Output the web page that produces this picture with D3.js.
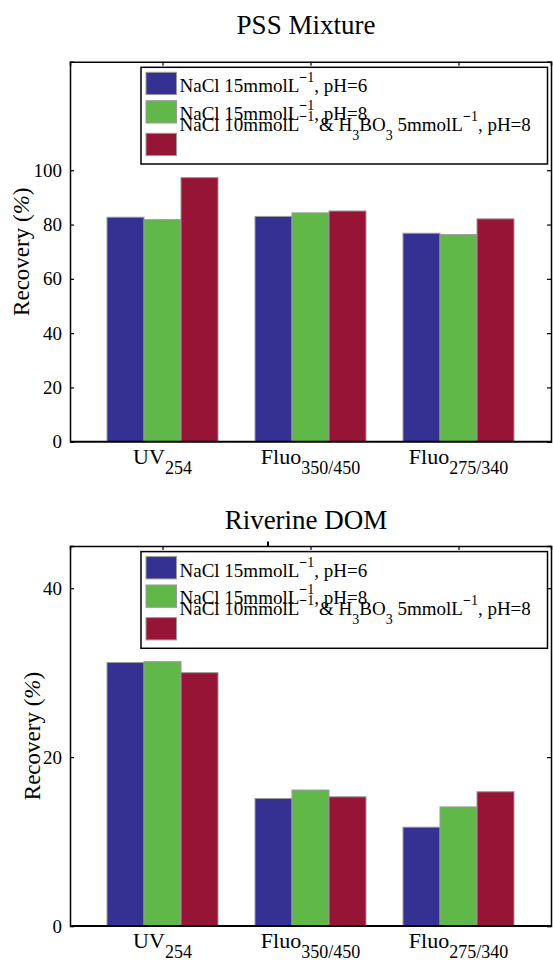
<!DOCTYPE html>
<html>
<head>
<meta charset="utf-8">
<script src="https://cdn.jsdelivr.net/npm/d3@7"></script>
<style>
  body { margin: 0; background: #fff; }
  svg text { font-family: "Liberation Serif", serif; }
</style>
</head>
<body>
<div id="chart"></div>
<script>
// chart data
var categories = ["UV", "Fluo", "Fluo"];
var catSubs = ["254", "350/450", "275/340"];
var seriesColors = ["#353192", "#5fb848", "#961537"];

var pssBlue = [82.7, 83.0, 76.8];
var pssGreen = [81.8, 84.3, 76.3];
var pssRed = [97.3, 85.0, 82.1];
var pssTicks = [0, 20, 40, 60, 80, 100];

var rivBlue = [31.2, 15.1, 11.7];
var rivGreen = [31.3, 16.1, 14.1];
var rivRed = [30.0, 15.3, 15.9];
var rivTicks = [0, 20, 40];

var FONT = "Liberation Serif";

var svgWidth = 553;
var svgHeight = 962;

var svg = d3.select("#chart")
  .append("svg")
  .attr("width", svgWidth)
  .attr("height", svgHeight)
  .attr("font-family", FONT);

// same x scale for both panels
var xScale = d3.scaleLinear()
  .domain([0.375, 3.625])
  .range([70, 551]);

var barW = 0.25;

// writes a text made of pieces, each with its own baseline shift
function richText(t, parts) {
  var cur = 0;
  parts.forEach(function(p) {
    var shift = p.shift || 0;
    var ts = t.append("tspan").attr("dy", shift - cur).text(p.text);
    if (p.size) ts.attr("font-size", p.size);
    if (p.bold) ts.attr("font-weight", "bold");
    if (p.italic) ts.attr("font-style", "italic");
    cur = shift;
  });
}

function drawPanel(opts) {
  var top = opts.top, bottom = opts.bottom;
  var g = svg.append("g");

  var yScale = d3.scaleLinear()
    .domain([0, opts.yMax])
    .range([bottom, top]);

  // title
  g.append("text")
    .attr("x", 306)
    .attr("y", opts.titleY)
    .attr("text-anchor", "middle")
    .attr("font-family", FONT)
    .attr("font-size", 27)
    .text(opts.title);

  // bars
  opts.series.forEach(function(vals, j) {
    g.selectAll(".bar" + j)
      .data(vals)
      .enter()
      .append("rect")
      .attr("x", (d, i) => xScale(i + 1 + (j - 1) * barW - barW / 2))
      .attr("width", xScale(barW) - xScale(0))
      .attr("y", d => yScale(d))
      .attr("height", d => yScale(0) - yScale(d))
      .attr("fill", seriesColors[j])
      .attr("stroke", "#9a9a9a")
      .attr("stroke-width", 1);
  });

  // axes (ticks pointing inward)
  var leftAxis = d3.axisLeft(yScale).tickValues(opts.ticks).tickSize(-4).tickPadding(8);
  var rightAxis = d3.axisRight(yScale).tickValues(opts.ticks).tickSize(-4).tickFormat("");
  var topAxis = d3.axisTop(xScale).tickValues([1, 2, 3]).tickSize(-4).tickFormat("");

  var la = g.append("g").attr("transform", "translate(70,0)").call(leftAxis);
  la.attr("font-family", FONT);
  la.selectAll("text").attr("font-size", 19).attr("font-family", FONT).attr("fill", "#000");
  g.append("g").attr("transform", "translate(551,0)").call(rightAxis);
  g.append("g").attr("transform", `translate(0,${top})`).call(topAxis);

  g.selectAll(".domain").attr("stroke", "#000").attr("stroke-width", 1.5);
  g.selectAll(".tick line").attr("stroke", "#000").attr("stroke-width", 1.2);

  // bottom axis line drawn over bars
  g.append("line")
    .attr("x1", 70).attr("x2", 551)
    .attr("y1", yScale(0)).attr("y2", yScale(0))
    .attr("stroke", "#000").attr("stroke-width", 2);

  // category labels with subscripts
  categories.forEach(function(c, i) {
    var t = g.append("text")
      .attr("x", xScale(i + 1))
      .attr("y", bottom + 22)
      .attr("text-anchor", "middle")
      .attr("font-family", FONT)
      .attr("font-size", 22);
    richText(t, [{ text: c }, { text: catSubs[i], size: 18, shift: 10 }]);
  });

  // y label
  var yl = g.append("text")
    .attr("transform", `translate(${opts.yLabelX},${(top + bottom) / 2}) rotate(-90)`)
    .attr("text-anchor", "middle")
    .attr("font-family", FONT)
    .attr("font-size", 23);
  richText(yl, [{ text: "Recovery (" }, { text: "%", italic: true }, { text: ")" }]);

  // legend
  var lx = 141, ly = top + 5.6;
  var leg = g.append("g");
  leg.append("rect")
    .attr("x", lx).attr("y", ly)
    .attr("width", 406.5).attr("height", 96.7)
    .attr("fill", "#fff").attr("stroke", "#000").attr("stroke-width", 1.5);

  var swY = [5, 33.4, 66];
  var txtY = [25, 52.7, 63.7];
  seriesColors.forEach(function(col, j) {
    leg.append("rect")
      .attr("x", lx + 5).attr("y", ly + swY[j])
      .attr("width", 30.5).attr("height", 22.3)
      .attr("fill", col)
      .attr("stroke", "#9a9a9a").attr("stroke-width", 1);
  });

  var minus = { text: "\u2212", size: 14, shift: -10, bold: true };
  var one = { text: "1", size: 14, shift: -10 };
  var lines = [
    [{ text: "NaCl 15mmolL" }, minus, one, { text: ", pH=6" }],
    [{ text: "NaCl 15mmolL" }, minus, one, { text: ", pH=8" }],
    [{ text: "NaCl 10mmolL" }, minus, one, { text: " & H" },
     { text: "3", size: 14, shift: 9 }, { text: "BO" },
     { text: "3", size: 14, shift: 9 }, { text: " 5mmolL" }, minus, one,
     { text: ", pH=8" }]
  ];
  lines.forEach(function(parts, j) {
    var t = leg.append("text")
      .attr("x", lx + 38.5)
      .attr("y", ly + txtY[j])
      .attr("font-family", FONT)
      .attr("font-size", 19);
    richText(t, parts);
  });

  return g;
}

drawPanel({
  title: "PSS Mixture", titleY: 33.5,
  top: 61.7, bottom: 441.7, yMax: 140,
  ticks: pssTicks,
  series: [pssBlue, pssGreen, pssRed],
  yLabelX: 29
});

var riv = drawPanel({
  title: "Riverine DOM", titleY: 529,
  top: 546, bottom: 926, yMax: 45,
  ticks: rivTicks,
  series: [rivBlue, rivGreen, rivRed],
  yLabelX: 40
});

// small stray tick above the lower panel, as in the original
riv.append("line")
  .attr("x1", 268).attr("x2", 268)
  .attr("y1", 541.5).attr("y2", 546)
  .attr("stroke", "#000").attr("stroke-width", 2);
</script>
</body>
</html>
